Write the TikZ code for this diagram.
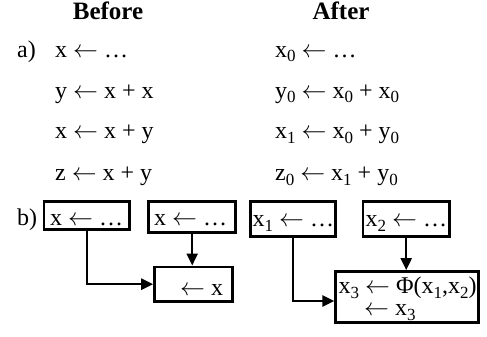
\documentclass[tikz,border=0pt]{standalone}
\usepackage{fontspec}
\setmainfont{Liberation Serif}
\usetikzlibrary{arrows.meta}
\newcommand\sbs[1]{\raisebox{-5pt}{\fontsize{17}{18}\selectfont #1}}
\newcommand\la{$\leftarrow$}
\begin{document}
\begin{tikzpicture}[x=1pt,y=-1pt,
  txt/.style={anchor=base west, inner sep=0pt, font=\fontsize{24}{28}\selectfont},
  head/.style={anchor=base, inner sep=0pt, font=\fontsize{25}{30}\selectfont\bfseries},
  box/.style={draw, line width=2.8pt, inner sep=0pt},
  conn/.style={line width=2.4pt, -{Triangle[length=12pt,width=11pt]}}]
\useasboundingbox (0,0) rectangle (487,337);
% headings
\node[head] (hb) at (108,20) {Before};
\node[head] (ha) at (341,20) {After};
% part a
\node[txt] (la) at (17,57) {a)};
\node[txt] (l1) at (55,57) {x \la{} …};
\node[txt] (l2) at (55,98) {y \la{} x + x};
\node[txt] (l3) at (55,138.5) {x \la{} x + y};
\node[txt] (l4) at (55,180) {z \la{} x + y};
\node[txt] (r1) at (275,57) {x\sbs{0} \la{} …};
\node[txt] (r2) at (275,98) {y\sbs{0} \la{} x\sbs{0} + x\sbs{0}};
\node[txt] (r3) at (275,138.5) {x\sbs{1} \la{} x\sbs{0} + y\sbs{0}};
\node[txt] (r4) at (275,180) {z\sbs{0} \la{} x\sbs{1} + y\sbs{0}};
% part b
\node[txt] (lb) at (17,225) {b)};
\node[box, minimum width=85.7pt, minimum height=28.6pt] (b1) at (86.85,215.5) {};
\node[box, minimum width=87pt, minimum height=31.6pt] (b2) at (192.2,217) {};
\node[box, minimum width=78.2pt, minimum height=34.5pt] (b3) at (193.7,284.2) {};
\node[box, minimum width=85pt, minimum height=35.5pt] (b4) at (292.9,219) {};
\node[box, minimum width=86.5pt, minimum height=35.5pt] (b5) at (406.2,219) {};
\node[box, minimum width=143pt, minimum height=51pt] (b6) at (407.3,297) {};
\node[txt] (t1) at (50,225) {x \la{} …};
\node[txt] (t2) at (154,225) {x \la{} …};
\node[txt] (t3) at (180,295) {\la{} x};
\node[txt] (t4) at (252.5,226) {x\sbs{1} \la{} …};
\node[txt] (t5) at (365.5,226) {x\sbs{2} \la{} …};
\node[txt] (t6) at (338.5,293) {x\sbs{3} \la{} Φ(x\sbs{1},x\sbs{2})};
\node[txt] (t7) at (364,315.5) {\la{} x\sbs{3}};
% connectors
\draw[conn] (b1.south) |- (b3.west);
\draw[conn] (b2.south) -- (b2.south |- b3.north);
\draw[conn] (b4.south) |- ([yshift=-4pt]b6.west);
\draw[conn] (b5.south) -- (b5.south |- b6.north);
\end{tikzpicture}
\end{document}
